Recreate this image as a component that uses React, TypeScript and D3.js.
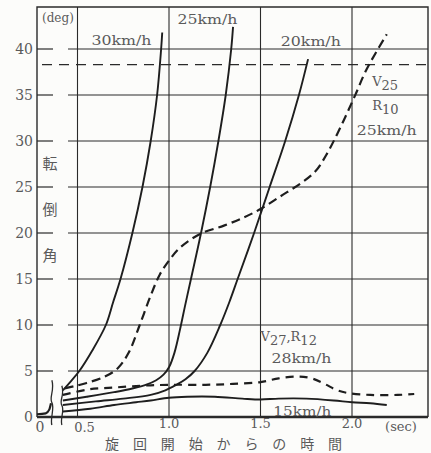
import React, { useRef, useEffect } from 'react';
import * as d3 from 'd3';

// roll angle (deg) vs time since start of turn (sec)
const yTicks = [0, 5, 10, 15, 20, 25, 30, 35, 40];
const xTicks = [0.5, 1.0, 1.5, 2.0];
const xTickLabels = ['0.5', '1.0', '1.5', '2.0'];
const limitAngle = 38.3;

const speed30 = [[0.42, 2.9], [0.46, 3.8], [0.51, 5.0], [0.58, 7.2], [0.655, 10], [0.695, 12.5], [0.735, 15], [0.8, 20], [0.855, 25], [0.9, 30], [0.935, 35], [0.957, 40], [0.963, 41.8]];
const speed25 = [[0.42, 1.8], [0.55, 2.2], [0.7, 2.7], [0.8, 3.1], [0.88, 3.55], [0.93, 4.0], [0.97, 4.6], [1.0, 5.4], [1.03, 7], [1.06, 9.5], [1.09, 12.3], [1.12, 15], [1.175, 20], [1.225, 25], [1.27, 30], [1.31, 35], [1.34, 40], [1.35, 42.4]];
const speed20 = [[0.42, 1.3], [0.6, 1.7], [0.75, 2.0], [0.9, 2.4], [0.98, 2.9], [1.04, 3.5], [1.09, 4.1], [1.14, 5], [1.21, 7], [1.28, 10], [1.33, 12.5], [1.375, 15], [1.465, 20], [1.55, 25], [1.635, 30], [1.71, 35], [1.76, 38.9]];
const speed15 = [[0.42, 0.6], [0.57, 0.9], [0.7, 1.3], [0.82, 1.6], [0.9, 1.8], [1.0, 2.1], [1.1, 2.2], [1.25, 2.2], [1.4, 2.0], [1.5, 1.9], [1.6, 2.0], [1.75, 2.0], [1.9, 1.8], [2.0, 1.6], [2.1, 1.5], [2.19, 1.3]];
const v25r10 = [[0.43, 3.1], [0.55, 3.7], [0.65, 4.4], [0.72, 5.3], [0.78, 7], [0.84, 10], [0.9, 13.2], [0.95, 15.5], [1.0, 17], [1.06, 18.4], [1.17, 19.9], [1.3, 20.8], [1.41, 21.7], [1.5, 22.6], [1.61, 24.0], [1.72, 25.4], [1.8, 26.7], [1.86, 28.5], [1.92, 30.8], [1.97, 32.9], [2.02, 35.1], [2.08, 37.8], [2.19, 41.6]];
const v27r12 = [[0.42, 2.4], [0.56, 3.0], [0.7, 3.2], [0.85, 3.4], [1.0, 3.5], [1.2, 3.5], [1.35, 3.6], [1.5, 3.8], [1.6, 4.2], [1.7, 4.4], [1.78, 4.2], [1.85, 3.6], [1.92, 2.9], [1.98, 2.6], [2.1, 2.4], [2.25, 2.4], [2.34, 2.5]];
// short piece before the axis break
const startPiece = [[0, 0.3], [0.05, 0.4], [0.07, 0.8], [0.08, 1.5]];

const series = [
  { data: speed30, dash: null },
  { data: speed25, dash: null },
  { data: speed20, dash: null },
  { data: speed15, dash: null },
  { data: v25r10, dash: '9,5' },
  { data: v27r12, dash: '8,6' },
];

export default function App() {
  const ref = useRef<SVGSVGElement>(null);

  useEffect(() => {
    const width = 431, height = 453;
    const svg = d3.select(ref.current);
    svg.selectAll('*').remove();
    svg.attr('width', width).attr('height', height);

    const left = 37, right = 428, top = 7, bottom = 417;
    const y = d3.scaleLinear().domain([0, 40]).range([417, 49]);
    const x = d3.scaleLinear().domain([0.5, 2.0]).range([77.5, 352]);
    const xLeft = d3.scaleLinear().domain([0, 0.08]).range([37, 51]);

    const ink = '#2a2a2a';
    const textCol = '#5a5a5a';
    const serif = "'DejaVu Serif', serif";
    const jp = "'Noto Sans CJK JP', sans-serif";

    svg.append('rect').attr('width', width).attr('height', height).attr('fill', '#fcfcfa');

    // horizontal grid + ticks
    const g = svg.append('g');
    yTicks.filter(d => d > 0).forEach(d => {
      g.append('line').attr('x1', left).attr('x2', 53).attr('y1', y(d)).attr('y2', y(d))
        .attr('stroke', ink).attr('stroke-width', 1.2);
      g.append('line').attr('x1', 68).attr('x2', right).attr('y1', y(d)).attr('y2', y(d))
        .attr('stroke', ink).attr('stroke-width', 1.1);
    });
    // vertical grid
    xTicks.forEach(d => {
      g.append('line').attr('x1', x(d)).attr('x2', x(d)).attr('y1', top).attr('y2', bottom)
        .attr('stroke', ink).attr('stroke-width', 1.1);
    });
    // frame
    g.append('path')
      .attr('d', `M${left},${bottom}V${top}H${right}V${bottom}`)
      .attr('fill', 'none').attr('stroke', ink).attr('stroke-width', 1.4);
    g.append('line').attr('x1', left).attr('x2', right).attr('y1', bottom).attr('y2', bottom)
      .attr('stroke', ink).attr('stroke-width', 2.4);

    // limit angle dashed line
    g.append('line').attr('x1', 42).attr('x2', right).attr('y1', y(limitAngle)).attr('y2', y(limitAngle))
      .attr('stroke', ink).attr('stroke-width', 1.2).attr('stroke-dasharray', '10,7');

    // curves
    const line = d3.line<number[]>().x(d => x(d[0])).y(d => y(d[1])).curve(d3.curveCatmullRom.alpha(0.5));
    series.forEach(s => {
      svg.append('path').attr('d', line(s.data as number[][]))
        .attr('fill', 'none').attr('stroke', '#1e1e1e')
        .attr('stroke-width', s.dash ? 2.2 : 1.9)
        .attr('stroke-dasharray', s.dash);
    });
    const lineLeft = d3.line<number[]>().x(d => xLeft(d[0])).y(d => y(d[1])).curve(d3.curveMonotoneX);
    svg.append('path').attr('d', lineLeft(startPiece as number[][]))
      .attr('fill', 'none').attr('stroke', '#1e1e1e').attr('stroke-width', 2.2);

    // axis break marks
    const breakAt = [{ x: xLeft(0.085), top: 4.0 }, { x: x(0.42) - 1, top: 3.4 }];
    breakAt.forEach(b => {
      const y0 = y(b.top), y1 = bottom + 8, m = (y0 + y1) / 2;
      svg.append('path')
        .attr('d', `M${b.x},${y0}C${b.x + 3},${y0 + 10} ${b.x - 3},${m - 5} ${b.x},${m}S${b.x - 2},${y1 - 6} ${b.x},${y1}`)
        .attr('fill', 'none').attr('stroke', ink).attr('stroke-width', 1.3);
    });

    // y tick labels
    svg.append('g').selectAll('text').data(yTicks).enter().append('text')
      .attr('x', 33).attr('y', d => y(d) + 5).attr('text-anchor', 'end')
      .attr('font-family', serif).attr('font-size', 14).attr('fill', textCol)
      .text(d => d);

    // x tick labels
    const xl = svg.append('g').attr('font-family', serif).attr('font-size', 13).attr('fill', textCol)
      .attr('text-anchor', 'middle');
    xl.append('text').attr('x', 40).attr('y', 432).attr('font-size', 14).text('0');
    xTicks.forEach((d, i) => {
      xl.append('text').attr('x', x(d) + (i === 0 ? 7 : 0)).attr('y', i === 0 ? 432 : 428).text(xTickLabels[i]);
    });
    xl.append('text').attr('x', 401).attr('y', 431).text('(sec)');

    // axis titles
    svg.append('text').attr('x', 42).attr('y', 22).attr('font-family', serif).attr('font-size', 12)
      .attr('fill', textCol).text('(deg)');
    ['転', '倒', '角'].forEach((c, i) => {
      svg.append('text').attr('x', 50).attr('y', y(27.6 - i * 5) + 6).attr('text-anchor', 'middle')
        .attr('font-family', jp).attr('font-size', 15).attr('fill', textCol).text(c);
    });
    svg.append('text').attr('x', 105).attr('y', 449)
      .attr('textLength', 237).attr('lengthAdjust', 'spacing')
      .attr('font-family', jp).attr('font-size', 14).attr('fill', textCol).text('旋回開始からの時間');

    // curve labels
    const lab = svg.append('g').attr('font-family', serif).attr('font-size', 13).attr('fill', textCol);
    const addLabel = (t: number, deg: number, txt: string, len: number, anchor = 'middle') => {
      lab.append('text').attr('x', x(t)).attr('y', y(deg)).attr('text-anchor', anchor)
        .attr('textLength', len).attr('lengthAdjust', 'spacingAndGlyphs').text(txt);
    };
    addLabel(0.74, 40.4, '30km/h', 60);
    addLabel(1.21, 42.7, '25km/h', 60);
    addLabel(1.775, 40.3, '20km/h', 60);
    addLabel(2.19, 30.7, '25km/h', 60);
    addLabel(1.56, 5.9, '28km/h', 60, 'start');
    addLabel(1.57, 0.15, '15km/h', 58, 'start');

    // V25 / R10 with subscripts
    const sub = (t: number, deg: number, main: string, s: string) => {
      const tx = lab.append('text').attr('x', x(t)).attr('y', y(deg));
      tx.append('tspan').text(main);
      tx.append('tspan').attr('dy', 4).text(s);
      return tx;
    };
    sub(2.11, 36.0, 'V', '25');
    sub(2.11, 33.4, 'R', '10');
    const v27 = lab.append('text').attr('x', x(1.5)).attr('y', y(8.3));
    v27.append('tspan').text('V');
    v27.append('tspan').attr('dy', 4).text('27');
    v27.append('tspan').attr('dy', -4).text(',R');
    v27.append('tspan').attr('dy', 4).text('12');
  }, []);

  return (
    <div style={{ position: 'absolute', left: 0, top: 0 }}>
      <svg ref={ref} style={{ display: 'block' }}></svg>
    </div>
  );
}
